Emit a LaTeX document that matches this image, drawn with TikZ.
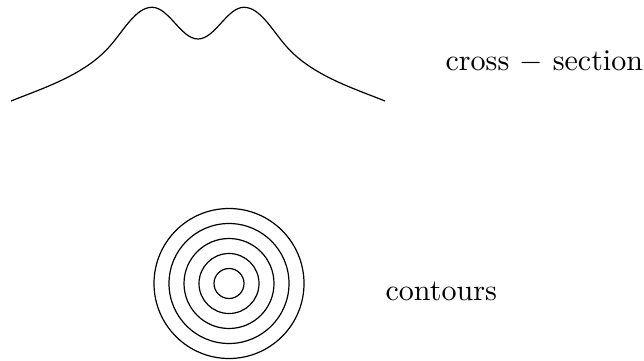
\documentclass[tikz,border=0pt]{standalone}
\usepackage{amsmath}
\usepackage{tikz}
\usetikzlibrary{positioning,calc}
\tikzset{
  crv/.style={black, thin, line join=round},
  ring/.style={black, thin},
  lbl/.style={inner sep=0pt, font=\normalsize},
}

\begin{document}
\begin{tikzpicture}[x=0.117cm, y=0.117cm]
 \useasboundingbox (0,0) rectangle (64.4,36);
 % double-peaked profile
 \draw[crv] (1.1,25.9) .. controls (4.4,27.22) and (8.5,28.52) .. (11.0,31.4)
   .. controls (12.4,33.0) and (13.6,35.27) .. (15.2,35.27)
   .. controls (16.9,35.27) and (18.1,32.1) .. (19.8,32.1)
   .. controls (21.5,32.1) and (22.7,35.27) .. (24.4,35.27)
   .. controls (26.0,35.27) and (27.2,33.0) .. (28.6,31.4)
   .. controls (31.1,28.52) and (35.2,27.22) .. (38.5,25.9);
 \node[lbl, anchor=base west] (xsec) at (44.5,28.95) {cross $-$ section};
 % level sets
 \coordinate (cc) at (22.9,7.65);
 \foreach \r in {1.5,3,...,7.5}
   \draw[ring] (cc) circle (\r);
 \node[lbl, anchor=base west] (cont) at (38.5,6.0) {contours};
\end{tikzpicture}
\end{document}
